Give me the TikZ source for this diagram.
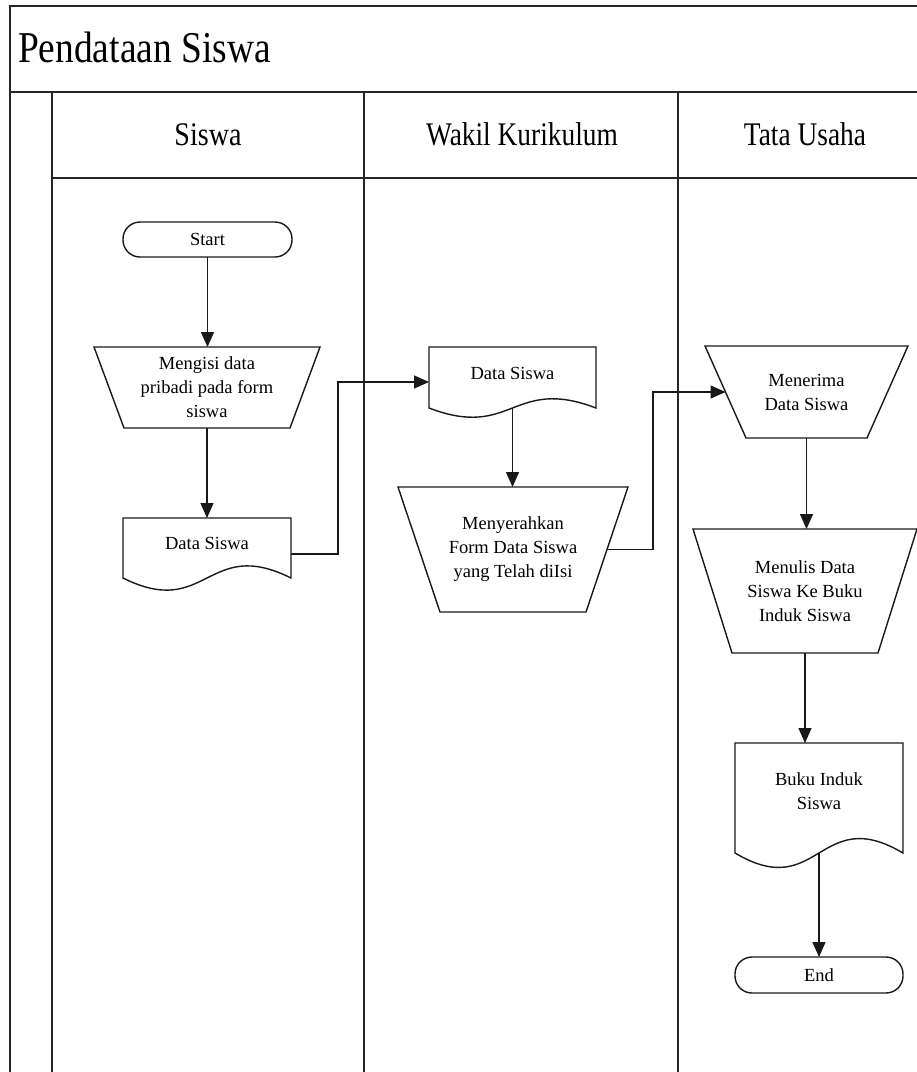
\documentclass[tikz,border=0pt]{standalone}
\usepackage{fontspec}
\setmainfont{Liberation Serif}
\usetikzlibrary{arrows.meta,calc}
\newcommand\docshape[3]{%
  \draw[shp] (#1.north west) -- (#1.north east) -- ($(#1.north east)+(0,#2)$)
    .. controls ($(#1.north)+(0,#2)+(0,-#3)$) and ($(#1.north)+(0,#2)+(0,#3)$) ..
    ($(#1.north west)+(0,#2)$) -- cycle;}
\newcommand\trapshape[2]{%
  \draw[shp] (#1.north west) -- (#1.north east) -- ([xshift=-#2]#1.south east)
    -- ([xshift=#2]#1.south west) -- cycle;}
\begin{document}
\begin{tikzpicture}[x=1pt,y=-1pt,
  frame/.style={line width=1.8pt, draw=black!85},
  shp/.style={line width=1.4pt, draw=black!90},
  box/.style={inner sep=0pt, outer sep=0pt, draw=none},
  txt/.style={font=\fontsize{18.5}{24}\selectfont, align=center, inner sep=0pt},
  hdr/.style={font=\fontsize{33}{36}\selectfont, anchor=base, inner sep=0pt},
  arr/.style={line width=1.4pt, draw=black!90, -{Triangle[length=15pt,width=13pt]}},
  term/.style={draw=black!90, line width=1.4pt, rounded corners=17pt, inner sep=0pt, outer sep=0pt,
    font=\fontsize{18.5}{24}\selectfont}
]
\useasboundingbox (0,0) rectangle (917,1072);
% frame
\draw[frame] (10,1072) -- (10,6) -- (917,6);
\draw[frame] (10,92) -- (917,92);
\draw[frame] (52,92) -- (52,1072);
\draw[frame] (52,178) -- (917,178);
\draw[frame] (364,92) -- (364,1072);
\draw[frame] (678,92) -- (678,1072);
% title and headers
\node[anchor=base west, inner sep=0pt] (title) at (18,62)
  {\scalebox{0.85}[1]{\fontsize{44}{48}\selectfont Pendataan Siswa}};
\node[hdr] (h1) at (208,145) {\scalebox{0.85}[1]{Siswa}};
\node[hdr] (h2) at (522,145) {\scalebox{0.83}[1]{Wakil Kurikulum}};
\node[hdr] (h3) at (805,145) {\scalebox{0.83}[1]{Tata Usaha}};
% Siswa lane
\node[term, minimum width=169pt, minimum height=35pt] (start) at (207.5,239.5) {Start};
\node[box, txt, minimum width=226pt, minimum height=81pt] (t1) at (207,387.5)
  {Mengisi data\\pribadi pada form\\siswa};
\trapshape{t1}{30pt}
\node[box, minimum width=168pt, minimum height=72pt] (d1) at (207,554) {};
\docshape{d1}{60}{42}
\node[txt] (d1t) at (207,543) {Data Siswa};
% Wakil Kurikulum lane
\node[box, minimum width=167pt, minimum height=70pt] (d2) at (512.5,382) {};
\docshape{d2}{61}{32}
\node[txt] (d2t) at (512.5,373) {Data Siswa};
\node[box, txt, minimum width=230pt, minimum height=125pt] (t2) at (513,549.5)
  {Menyerahkan\\Form Data Siswa\\yang Telah diIsi};
\trapshape{t2}{42pt}
% Tata Usaha lane
\node[box, txt, minimum width=203pt, minimum height=92pt] (t3) at (806.5,392)
  {Menerima\\Data Siswa};
\trapshape{t3}{41pt}
\node[box, txt, minimum width=224pt, minimum height=124pt] (t4) at (805,591)
  {Menulis Data\\Siswa Ke Buku\\Induk Siswa};
\trapshape{t4}{39pt}
\node[box, minimum width=168pt, minimum height=125pt] (d3) at (819,805.5) {};
\docshape{d3}{110}{50}
\node[txt] (d3t) at (819,791) {Buku Induk\\Siswa};
\node[term, minimum width=168pt, minimum height=36pt] (end) at (819,975) {End};
% connectors
\coordinate (j1) at (338,0);
\coordinate (j2) at (653,0);
\coordinate (t2r) at ([xshift=-21pt]t2.east);
\coordinate (t3l) at ([xshift=20.5pt]t3.west);
\coordinate (d2b) at ([yshift=9pt]d2.south);
\coordinate (d3b) at ([yshift=15pt]d3.south);
\draw[arr] (start.south) -- (start.south |- t1.north);
\draw[arr] (t1.south) -- (t1.south |- d1.north);
\draw[arr] (d1.east) -- (d1.east -| j1) -- (j1 |- d2.west) -- (d2.west);
\draw[arr] (d2b) -- (d2b |- t2.north);
\draw[arr] (t2r) -- (t2r -| j2) -- (j2 |- t3l) -- (t3l);
\draw[arr] (t3.south) -- (t3.south |- t4.north);
\draw[arr] (t4.south) -- (t4.south |- d3.north);
\draw[arr] (d3b) -- (d3b |- end.north);
\end{tikzpicture}
\end{document}
